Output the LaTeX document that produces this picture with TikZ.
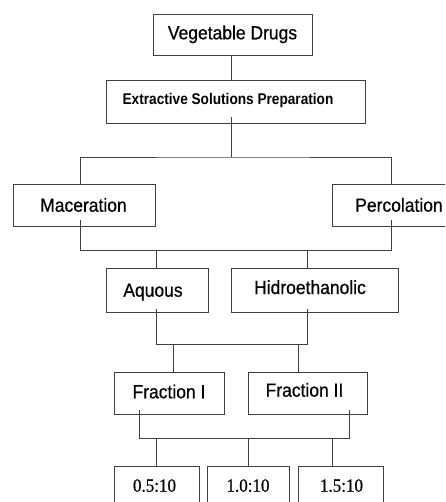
\documentclass[tikz,border=0pt]{standalone}
\usepackage{fontspec}
\setmainfont[FakeStretch=0.92,FakeBold=0.6]{Liberation Sans}
\newfontfamily\narrowbold[FakeStretch=0.88]{Liberation Sans Bold}
\newfontfamily\timesfont[FakeStretch=0.91,FakeBold=0.5]{Liberation Serif}
\begin{document}
\begin{tikzpicture}[x=1pt,y=-1pt,
  box/.style={draw=black!75,line width=0.9pt,inner sep=0pt,rectangle},
  txt/.style={anchor=base,inner sep=0pt,font=\fontsize{19}{22}\selectfont},
  numtxt/.style={anchor=base,inner sep=0pt,font=\timesfont\fontsize{18.7}{22}\selectfont},
  conn/.style={draw=black!75,line width=0.9pt}]
\useasboundingbox (0,0) rectangle (445,502);
\clip (0,0) rectangle (445,502);
% boxes
\node[box,minimum width=159pt,minimum height=41pt] (veg) at (232.5,34.5) {};
\node[box,minimum width=259pt,minimum height=43pt] (ext) at (235.5,101.5) {};
\node[box,minimum width=142pt,minimum height=42pt] (mac) at (84,205) {};
\node[box,minimum width=134pt,minimum height=42pt] (perc) at (399,205) {};
\node[box,minimum width=102pt,minimum height=44pt] (aq) at (157,290) {};
\node[box,minimum width=167pt,minimum height=44pt] (hid) at (314.5,290) {};
\node[box,minimum width=110pt,minimum height=42pt] (f1) at (169,393) {};
\node[box,minimum width=119pt,minimum height=42pt] (f2) at (307.5,393) {};
\node[box,minimum width=85pt,minimum height=64pt] (n1) at (156.5,498) {};
\node[box,minimum width=82pt,minimum height=64pt] (n2) at (248,498) {};
\node[box,minimum width=85pt,minimum height=64pt] (n3) at (340.5,498) {};
% texts
\node[txt] (vegt) at (232.5,39.3) {Vegetable Drugs};
\node[anchor=base,inner sep=0pt,font=\narrowbold\fontsize{15.5}{18}\selectfont] (extt) at (228,104.3) {Extractive Solutions Preparation};
\node[txt] (mact) at (83.5,211.7) {Maceration};
\node[txt] (perct) at (399,211.7) {Percolation};
\node[txt] (aqt) at (153,296.7) {Aquous};
\node[txt] (hidt) at (310,294) {Hidroethanolic};
\node[txt] (f1t) at (169,398.3) {Fraction I};
\node[txt] (f2t) at (304.5,396.7) {Fraction II};
\node[numtxt] (n1t) at (154.5,491.7) {0.5:10};
\node[numtxt] (n2t) at (248,491.7) {1.0:10};
\node[numtxt] (n3t) at (341.5,491.7) {1.5:10};
% junction coordinates
\coordinate (j1) at (231,157);
\coordinate (j2L) at (80,250);
\coordinate (j2R) at (391,250);
\coordinate (j3L) at (156,344);
\coordinate (j3R) at (307,344);
\coordinate (j4L) at (139,438);
\coordinate (j4R) at (349,438);
% connectors
\draw[conn] (veg.south -| j1) -- (ext.north -| j1);
\draw[conn] ([yshift=6pt]ext.south -| j1) -- (j1);
\draw[conn] (mac.north -| j2L) |- (j1) -| (perc.north -| j2R);
\draw[conn] ([yshift=6pt]mac.south -| j2L) -- (j2L) -- (j2R) -- ([yshift=6pt]perc.south -| j2R);
\draw[conn] (j2L -| j3L) -- (aq.north -| j3L);
\draw[conn] (j2L -| j3R) -- (hid.north -| j3R);
\draw[conn] ([yshift=3pt]aq.south -| j3L) -- (j3L) -- (j3R) -- ([yshift=3pt]hid.south -| j3R);
\draw[conn] (j3L -| 173,0) -- (f1.north -| 173,0);
\draw[conn] (j3L -| 298,0) -- (f2.north -| 298,0);
\draw[conn] ([yshift=4pt]f1.south -| j4L) -- (j4L) -- (j4R) -- ([yshift=4pt]f2.south -| j4R);
\draw[conn] (j4L -| n1.north) -- (n1.north);
\draw[conn] (j4L -| n2.north) -- (n2.north);
\draw[conn] (j4L -| 332,0) -- (n3.north -| 332,0);
\end{tikzpicture}
\end{document}
